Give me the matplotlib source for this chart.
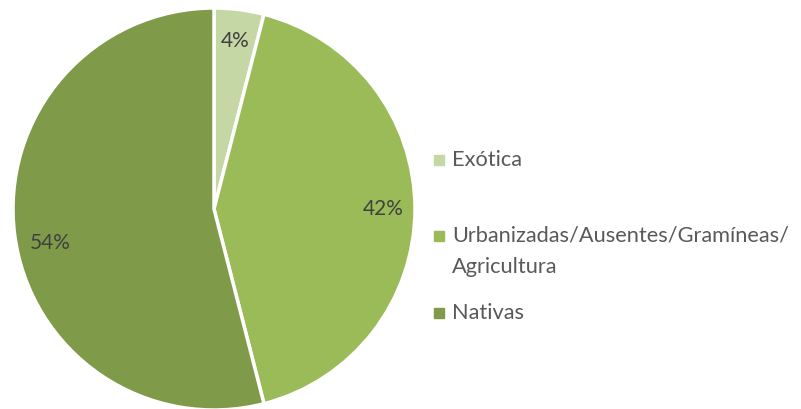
import matplotlib.pyplot as plt
from matplotlib.patches import Rectangle

# Uso do solo
categorias = ['Exótica', 'Urbanizadas/Ausentes/Gramíneas/\nAgricultura', 'Nativas']
valores = [4, 42, 54]
cores = ['#C4D7A4', '#9BBB59', '#7F9A48']

plt.rcParams['font.family'] = ['Lato', 'DejaVu Sans']

W, H = 801, 409
fig = plt.figure(figsize=(W / 100, H / 100), dpi=100)
ax = fig.add_axes([12 / W, -2 / H, 404 / W, 404 / H])

wedges, textos, pcts = ax.pie(
    valores, colors=cores, startangle=90, counterclock=False,
    autopct='%1.0f%%', pctdistance=0.84,
    wedgeprops=dict(edgecolor='white', linewidth=2.5),
    textprops=dict(color='#404040', fontsize=15))
# rótulo de Nativas um pouco mais abaixo
pcts[2].set_position((-0.815, -0.17))
ax.set_xlim(-1.005, 1.005)
ax.set_ylim(-1.005, 1.005)
ax.set_aspect('equal')

# Legenda desenhada à mão
ys = [160, 236, 313]
for cat, cor, y in zip(categorias, cores, ys):
    fig.patches.append(Rectangle((434 / W, (H - y - 5) / H), 10 / W, 10 / H,
                                 transform=fig.transFigure, color=cor))
    linhas = cat.split('\n')
    for i, linha in enumerate(linhas):
        fig.text(452 / W, (H - y - 31 * i) / H, linha, va='center',
                 fontsize=15.7, color='#595959')

fig.savefig('out.png', dpi=100)
